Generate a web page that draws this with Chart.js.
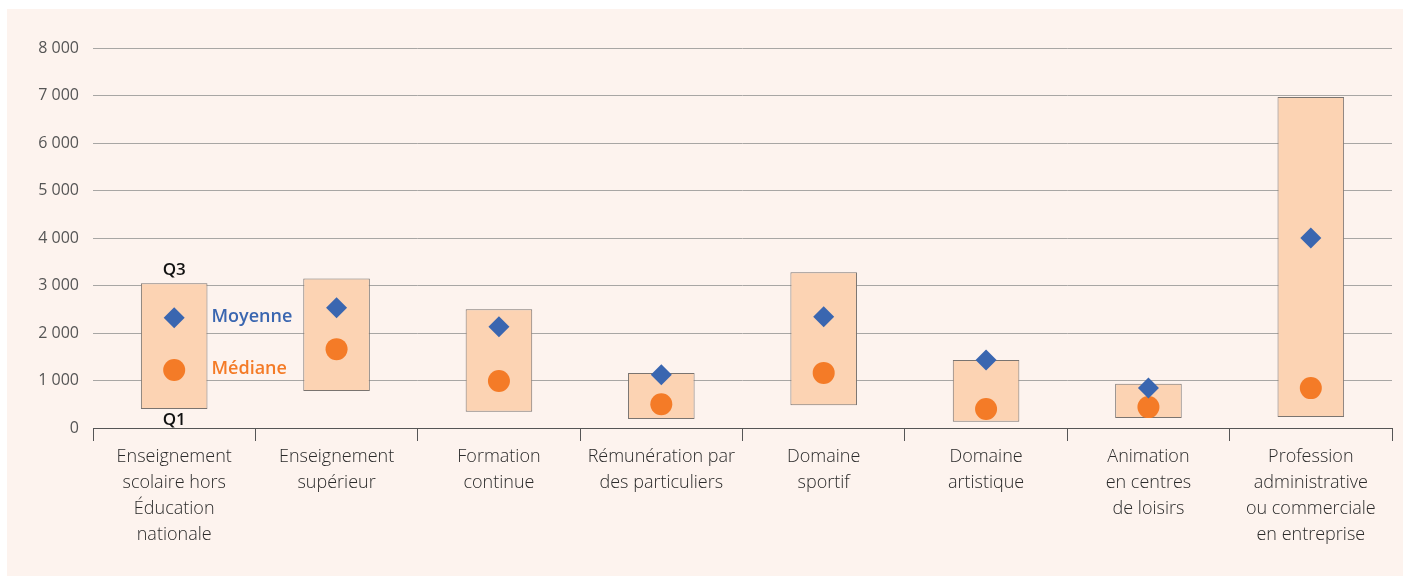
<!DOCTYPE html>
<html><head><meta charset="utf-8">
<script src="https://cdn.jsdelivr.net/npm/chart.js@4/dist/chart.umd.min.js"></script>
<style>
html,body{margin:0;padding:0;background:#ffffff;}
#wrap{position:absolute;left:7px;top:9px;width:1396px;height:567px;background:#fdf3ee;}
canvas{display:block;}
</style></head>
<body><div id="wrap"><canvas id="c" width="1396" height="567"></canvas></div>
<script>
const categories = [
  ["Enseignement","scolaire hors","Éducation","nationale"],
  ["Enseignement","supérieur"],
  ["Formation","continue"],
  ["Rémunération par","des particuliers"],
  ["Domaine","sportif"],
  ["Domaine","artistique"],
  ["Animation","en centres","de loisirs"],
  ["Profession","administrative","ou commerciale","en entreprise"]
];
const q1 = [400, 780, 340, 190, 480, 130, 210, 230];
const q3 = [3050, 3150, 2500, 1160, 3280, 1430, 930, 6970];
const moyenne = [2320, 2530, 2130, 1120, 2340, 1430, 840, 4000];
const mediane = [1220, 1660, 990, 500, 1160, 400, 440, 840];
const yTicks = [0,1000,2000,3000,4000,5000,6000,7000,8000];

const FONT = "'Open Sans', sans-serif";

const annot = {
  id:'annot',
  afterDatasetsDraw(chart){
    const ctx = chart.ctx, x = chart.scales.x, y = chart.scales.y;
    const cx = x.getPixelForValue(0);
    const meta = chart.getDatasetMeta(2);
    const bar = meta.data[0];
    const right = bar.x + bar.width/2;
    ctx.save();
    ctx.textAlign='center'; ctx.textBaseline='middle';
    ctx.fillStyle='#111'; ctx.font="600 17px "+FONT;
    ctx.fillText('Q3', cx, y.getPixelForValue(q3[0]) - 13);
    ctx.fillText('Q1', cx, y.getPixelForValue(q1[0]) + 11);
    ctx.textAlign='left'; ctx.font="600 18px "+FONT;
    ctx.fillStyle='#3a66b0';
    ctx.fillText('Moyenne', right + 4, y.getPixelForValue(moyenne[0]) - 1);
    ctx.fillStyle='#f47b27';
    ctx.fillText('Médiane', right + 4, y.getPixelForValue(mediane[0]) - 1);
    ctx.restore();
  }
};

new Chart(document.getElementById('c'), {
  type:'bar',
  data:{
    labels: categories,
    datasets:[
      {type:'line', label:'Moyenne', data:moyenne, showLine:false, pointStyle:'rectRot', pointRadius:10.5, pointBackgroundColor:'#3a66b0', pointBorderWidth:0, borderColor:'#3a66b0'},
      {type:'line', label:'Médiane', data:mediane, showLine:false, pointStyle:'circle', pointRadius:11, pointBackgroundColor:'#f47b27', pointBorderWidth:0, borderColor:'#f47b27'},
      {type:'bar', label:'Q1-Q3', data:q1.map((v,i)=>[v,q3[i]]), backgroundColor:'#fcd3b3', borderColor:'#7a7470', borderWidth:1, borderSkipped:false, barPercentage:0.41, categoryPercentage:1}
    ]
  },
  options:{
    responsive:false, animation:false,
    layout:{padding:{top:39,right:10,left:0,bottom:0}},
    plugins:{legend:{display:false}, tooltip:{enabled:false}},
    scales:{
      x:{
        afterFit(s){ s.height = 148; },
        border:{display:true,color:'#555',width:1},
        grid:{drawOnChartArea:false, tickLength:13, color:'#555', offset:true},
        ticks:{color:'#2a2a2a', font:{family:FONT, size:18, weight:'300', lineHeight:1.45}, padding:3, maxRotation:0, autoSkip:false}
      },
      y:{
        min:0, max:8000,
        afterFit(s){ s.width = 86; },
        afterBuildTicks(s){ s.ticks = yTicks.map(v=>({value:v})); },
        border:{display:false},
        grid:{color:'#a8a6a4', drawTicks:false, lineWidth:1},
        ticks:{color:'#555', font:{family:FONT, size:16}, padding:14,
          callback:(v)=> String(v).replace(/\B(?=(\d{3})+(?!\d))/g,' ')}
      }
    }
  },
  plugins:[annot]
});
</script></body></html>
